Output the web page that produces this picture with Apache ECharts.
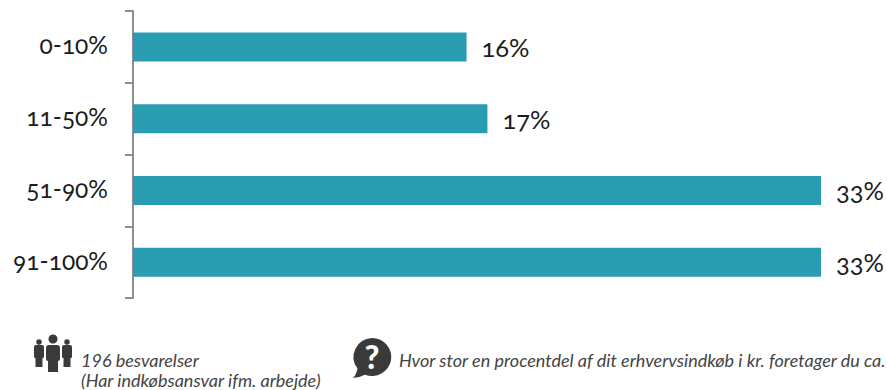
<!DOCTYPE html>
<html>
<head>
<meta charset="utf-8">
<style>
html,body{margin:0;padding:0;background:#fff}
#chart{width:887px;height:390px}
#chart text{font-feature-settings:"onum" 1;font-variant-numeric:oldstyle-nums}
</style>
<script src="https://cdn.jsdelivr.net/npm/echarts@6/dist/echarts.min.js"></script>
</head>
<body>
<div id="chart"></div>
<script>
const categories = ['0-10%', '11-50%', '51-90%', '91-100%'];
const shares = [16, 17, 33, 33];
const respondents = '196 besvarelser';
const respondentsNote = '(Har indkøbsansvar ifm. arbejde)';
const question = 'Hvor stor en procentdel af dit erhvervsindkøb i kr. foretager du ca.';

const fontFamily = 'Lato, "Open Sans", sans-serif';
const iconColor = '#3a3a3a';
const peoplePath =
  'M49 345h8q3 0 3 3v11q0 2-2 2v11h-10v-11q-2 0-2-2v-11q0-3 3-3z' +
  'M36 345h6q2 0 2 2v10q0 1-1.500 1v9h-7v-9q-1.500 0-1.500-1v-10q0-2 2-2z' +
  'M64 345h6q2 0 2 2v10q0 1-1.500 1v9h-7v-9q-1.500 0-1.500-1v-10q0-2 2-2z';
const bubblePath =
  'M372 338a19.500 19 0 1 1-7 36.800q-5 2.700-12 3.200q3.500-3.500 4.500-9.500a19.500 19 0 0 1 14.500-30.500z';

// Icon outlines are registered as custom shapes for the graphic component.
echarts.graphic.registerShape('peopleIcon', echarts.graphic.extendPath(peoplePath, {}));
echarts.graphic.registerShape('bubbleIcon', echarts.graphic.extendPath(bubblePath, {}));

const chart = echarts.init(document.getElementById('chart'), null, { renderer: 'svg' });
chart.setOption({
  animation: false,
  backgroundColor: '#ffffff',
  grid: { left: 133, top: 11, width: 688, height: 287 },
  xAxis: { type: 'value', min: 0, max: 33, show: false },
  yAxis: {
    type: 'category',
    inverse: true,
    data: categories,
    axisLine: { lineStyle: { color: '#8e8e8e', width: 2 } },
    axisTick: { show: true, alignWithLabel: false, length: 8, lineStyle: { color: '#8e8e8e', width: 2 } },
    // A short bottom-anchored line box lifts the labels slightly above the band centre.
    axisLabel: { margin: 25, fontFamily, fontSize: 24.5, color: '#1c1c1c', verticalAlign: 'bottom', lineHeight: 4 }
  },
  series: [{
    type: 'bar',
    data: shares,
    barWidth: 29,
    itemStyle: { color: '#2b9db2' },
    label: {
      show: true,
      position: 'right',
      distance: 15,
      formatter: '{c}%',
      fontFamily,
      fontSize: 25.5,
      color: '#1c1c1c'
    }
  }],
  graphic: [
    { type: 'circle', shape: { cx: 53, cy: 339, r: 4.5 }, style: { fill: iconColor } },
    { type: 'circle', shape: { cx: 39, cy: 342, r: 2.8 }, style: { fill: iconColor } },
    { type: 'circle', shape: { cx: 67, cy: 342, r: 2.8 }, style: { fill: iconColor } },
    { type: 'peopleIcon', style: { fill: iconColor } },
    { type: 'bubbleIcon', style: { fill: iconColor } },
    { type: 'text', x: 372, y: 356, style: {
      text: '?', fill: '#ffffff', font: '900 32px ' + fontFamily, align: 'center', verticalAlign: 'middle'
    } },
    { type: 'text', x: 81, y: 350, style: {
      text: respondents + '\n' + respondentsNote,
      fill: '#444444',
      font: 'italic 18px ' + fontFamily,
      lineHeight: 20,
      verticalAlign: 'top'
    } },
    { type: 'text', x: 399, y: 360, style: {
      text: question, fill: '#444444', font: 'italic 18px ' + fontFamily, verticalAlign: 'middle'
    } }
  ]
});
</script>
</body>
</html>
